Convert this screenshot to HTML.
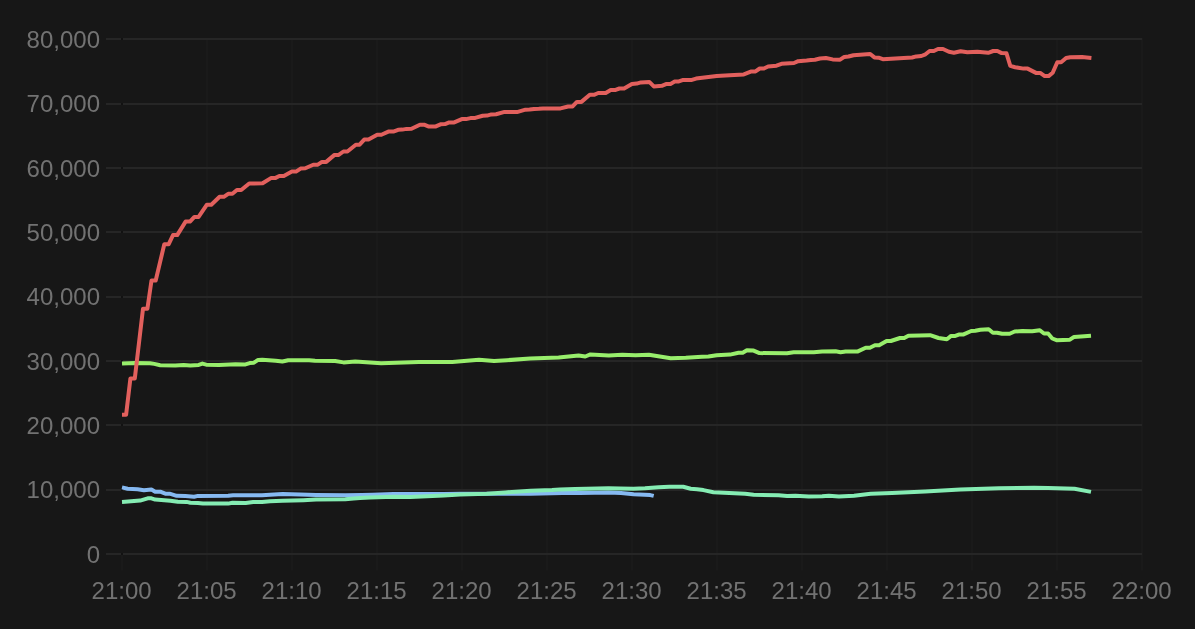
<!DOCTYPE html>
<html lang="en">
<head>
<meta charset="utf-8">
<title>Chart</title>
<style>
html,body{margin:0;padding:0;background:#171717;}
body{width:1195px;height:629px;overflow:hidden;}
svg{display:block;will-change:transform;}
text{font-family:"Liberation Sans",sans-serif;font-size:24px;fill:#727272;}
.s{fill:none;stroke-width:4;stroke-linejoin:round;stroke-linecap:butt;}
</style>
</head>
<body>
<svg width="1195" height="629" viewBox="0 0 1195 629">
<defs><filter id="g" x="0" y="0" width="100%" height="100%" filterUnits="userSpaceOnUse"><feOffset dx="0" dy="0"/></filter></defs>
<rect x="0" y="0" width="1195" height="629" fill="#171717"/>
<g fill="#1a1a1a">
<rect x="121" y="555" width="2" height="15.5"/>
<rect x="206" y="38" width="2" height="532.5"/>
<rect x="291" y="38" width="2" height="532.5"/>
<rect x="376" y="38" width="2" height="532.5"/>
<rect x="461" y="38" width="2" height="532.5"/>
<rect x="546" y="38" width="2" height="532.5"/>
<rect x="631" y="38" width="2" height="532.5"/>
<rect x="716" y="38" width="2" height="532.5"/>
<rect x="801" y="38" width="2" height="532.5"/>
<rect x="886" y="38" width="2" height="532.5"/>
<rect x="971" y="38" width="2" height="532.5"/>
<rect x="1056" y="38" width="2" height="532.5"/>
<rect x="1141" y="38" width="2" height="532.5"/>
</g>
<g fill="#262626">
<rect x="106" y="38.000" width="15" height="2"/><rect x="123" y="38.000" width="1019" height="2"/>
<rect x="106" y="103.000" width="15" height="2"/><rect x="123" y="103.000" width="1019" height="2"/>
<rect x="106" y="167.000" width="15" height="2"/><rect x="123" y="167.000" width="1019" height="2"/>
<rect x="106" y="231.000" width="15" height="2"/><rect x="123" y="231.000" width="1019" height="2"/>
<rect x="106" y="296.000" width="15" height="2"/><rect x="123" y="296.000" width="1019" height="2"/>
<rect x="106" y="360.000" width="15" height="2"/><rect x="123" y="360.000" width="1019" height="2"/>
<rect x="106" y="424.000" width="15" height="2"/><rect x="123" y="424.000" width="1019" height="2"/>
<rect x="106" y="489.000" width="15" height="2"/><rect x="123" y="489.000" width="1019" height="2"/>
<rect x="106" y="553.000" width="15" height="2"/><rect x="123" y="553.000" width="1019" height="2"/>
</g>
<g fill="#121212">
<rect x="121" y="38.000" width="2" height="2"/>
<rect x="121" y="103.000" width="2" height="2"/>
<rect x="121" y="167.000" width="2" height="2"/>
<rect x="121" y="231.000" width="2" height="2"/>
<rect x="121" y="296.000" width="2" height="2"/>
<rect x="121" y="360.000" width="2" height="2"/>
<rect x="121" y="424.000" width="2" height="2"/>
<rect x="121" y="489.000" width="2" height="2"/>
<rect x="121" y="553.000" width="2" height="2"/>
</g>
<g text-anchor="end" filter="url(#g)">
<text x="100" y="48">80,000</text>
<text x="100" y="112">70,000</text>
<text x="100" y="177">60,000</text>
<text x="100" y="241">50,000</text>
<text x="100" y="305">40,000</text>
<text x="100" y="370">30,000</text>
<text x="100" y="434">20,000</text>
<text x="100" y="498">10,000</text>
<text x="100" y="563">0</text>
</g>
<g text-anchor="middle" filter="url(#g)">
<text x="121.6" y="599.3">21:00</text>
<text x="206.6" y="599.3">21:05</text>
<text x="291.6" y="599.3">21:10</text>
<text x="376.6" y="599.3">21:15</text>
<text x="461.6" y="599.3">21:20</text>
<text x="546.6" y="599.3">21:25</text>
<text x="631.6" y="599.3">21:30</text>
<text x="716.6" y="599.3">21:35</text>
<text x="801.6" y="599.3">21:40</text>
<text x="886.6" y="599.3">21:45</text>
<text x="971.6" y="599.3">21:50</text>
<text x="1056.6" y="599.3">21:55</text>
<text x="1141.6" y="599.3">22:00</text>
</g>
<polyline class="s" stroke="#86b9f1" points="122.0,487.4 127.6,488.7 137.6,489.3 143.9,490.2 151.4,489.5 155.2,491.7 160.2,491.7 165.3,493.7 169.6,493.7 176.6,495.8 185.4,496.1 194.1,496.7 197.9,495.9 228.1,495.7 233.1,495.2 262.0,495.3 270.0,494.8 282.6,494.1 300.0,494.6 316.0,495.0 345.3,495.3 362.0,495.0 372.5,494.7 393.5,494.1 418.6,493.9 443.7,494.1 460.0,493.7 493.0,493.7 530.6,493.7 552.0,493.3 562.6,493.1 580.0,492.9 608.5,492.4 621.0,493.1 633.6,494.3 650.3,495.1 653.7,495.9"/>
<polyline class="s" stroke="#85ecb3" points="122.0,501.9 140.1,500.6 147.7,498.3 151.4,498.3 155.2,499.6 170.3,500.7 177.8,501.7 186.6,501.9 190.4,502.7 197.9,503.0 202.9,503.6 228.1,503.6 232.5,502.7 245.7,503.1 253.2,502.1 262.0,501.9 270.0,501.3 282.6,500.8 303.5,500.2 316.0,499.6 345.3,499.2 353.7,498.5 360.0,498.0 370.0,497.4 393.5,496.7 410.2,497.0 427.0,496.3 443.7,495.5 460.0,494.5 486.7,493.7 505.5,492.4 530.6,490.8 552.0,490.0 560.0,489.5 575.0,488.9 608.5,488.2 620.0,488.4 633.6,488.7 645.0,488.2 658.7,487.2 669.3,486.7 683.2,486.8 690.7,488.7 697.0,489.2 703.4,490.1 713.4,492.2 745.2,493.8 753.6,494.8 778.7,495.2 787.1,496.0 795.4,495.7 808.8,496.5 822.2,496.3 828.9,495.7 838.9,496.5 854.0,495.7 870.7,493.8 892.0,492.9 925.1,491.4 960.3,489.6 999.0,488.2 1034.1,487.7 1048.2,488.0 1074.5,488.7 1091.0,491.9"/>
<polyline class="s" stroke="#98ee6c" points="122.0,363.6 135.1,362.9 150.1,363.2 154.3,363.9 160.2,365.2 175.3,365.4 183.6,364.9 190.3,365.6 198.7,364.9 202.4,363.6 206.2,364.7 218.8,365.1 235.5,364.2 245.5,364.4 249.7,363.1 253.9,362.7 258.1,359.9 262.3,359.7 275.7,360.7 282.4,361.5 288.2,360.2 309.1,360.2 315.0,360.8 335.1,361.0 343.5,362.4 355.2,361.5 381.1,363.2 418.8,361.9 452.3,361.9 464.0,361.0 479.0,359.7 494.1,361.0 507.0,360.2 530.1,358.5 558.6,357.4 578.6,355.5 585.3,356.5 590.4,354.4 608.8,355.5 622.2,354.7 635.5,355.2 648.9,354.7 670.7,358.2 685.8,357.7 702.0,356.7 708.4,356.6 716.7,355.3 730.1,354.6 738.5,352.8 742.7,352.8 746.9,350.3 753.6,350.6 759.4,353.1 787.0,353.3 793.7,352.3 813.8,352.3 822.2,351.4 835.6,351.3 840.6,352.3 845.6,351.6 857.3,351.6 865.7,347.7 869.9,347.7 874.9,345.2 879.1,345.2 886.6,341.0 890.8,341.0 900.0,338.0 904.2,338.0 908.4,335.7 930.1,335.2 938.5,338.0 946.9,339.2 951.1,335.9 955.3,335.9 959.4,334.4 963.6,334.4 971.2,331.0 975.3,330.7 980.4,329.8 988.7,329.3 992.9,332.7 997.1,332.7 1002.1,333.8 1009.6,333.8 1014.7,331.5 1022.2,331.0 1032.2,331.3 1039.8,330.2 1044.0,333.5 1048.1,333.5 1052.3,338.5 1056.5,340.2 1069.9,339.7 1074.1,336.9 1091.0,335.7"/>
<polyline class="s" stroke="#e2605d" points="122.0,414.7 126.1,414.7 130.4,378.5 134.8,378.5 143.0,308.7 147.4,308.7 151.5,280.5 155.7,280.5 164.3,244.3 168.6,244.3 173.0,235.1 177.2,235.1 185.6,221.6 190.0,221.6 194.4,216.9 198.6,216.9 206.9,204.7 211.3,204.7 219.6,196.8 223.8,196.8 228.2,193.8 232.4,193.8 236.9,190.0 241.2,190.0 249.2,183.5 262.6,183.3 270.9,178.1 275.1,178.1 279.3,176.0 283.8,176.0 291.9,171.6 296.0,171.6 300.6,168.6 305.3,168.3 313.3,164.7 317.8,164.7 322.0,161.9 326.2,161.9 334.5,154.9 338.7,154.9 343.4,151.5 347.4,151.5 355.8,144.7 359.6,144.7 364.2,139.6 368.5,139.6 377.2,134.8 381.4,134.8 388.9,131.4 394.0,131.4 398.1,129.8 402.3,129.6 406.5,128.9 411.5,128.8 419.9,124.7 424.1,124.7 428.3,126.4 435.8,126.4 440.5,124.3 445.0,124.1 449.2,122.4 454.2,122.4 461.8,119.1 466.0,119.1 470.5,118.1 475.2,117.9 482.7,115.8 486.9,115.6 491.4,114.4 496.1,114.2 504.5,111.9 517.0,112.1 525.4,109.7 529.6,109.6 534.1,108.9 538.8,108.7 543.0,108.4 560.5,108.4 568.1,106.5 572.6,106.4 576.9,101.9 581.4,101.9 589.8,94.8 594.0,94.8 598.2,93.0 605.7,93.0 610.7,90.1 614.9,90.1 619.4,88.5 624.1,88.5 631.9,84.0 636.7,83.6 640.9,82.4 649.3,81.9 653.8,86.4 661.8,85.8 666.0,84.1 670.5,83.9 674.7,81.6 678.9,81.4 683.2,79.9 691.9,79.9 696.1,78.6 716.7,76.0 729.6,75.2 743.8,74.4 751.4,71.4 755.5,71.4 759.7,68.5 763.9,68.5 768.1,66.5 776.5,65.7 781.5,63.8 794.0,63.0 798.2,61.2 806.6,60.6 810.8,60.1 814.9,59.8 820.0,58.5 825.9,58.0 832.6,59.4 840.1,59.7 844.3,56.9 848.5,56.5 853.5,55.2 870.2,54.0 874.4,57.4 878.6,57.7 882.8,59.2 912.1,57.5 916.3,56.4 921.3,56.0 925.5,54.3 929.6,51.0 933.8,51.0 938.0,49.0 943.0,49.0 948.9,51.8 953.9,52.7 960.6,51.3 967.3,52.2 977.3,51.8 988.2,52.8 993.2,51.0 997.4,51.0 1001.7,53.1 1006.4,53.2 1010.3,65.9 1015.1,67.2 1023.5,68.6 1027.6,68.6 1036.0,72.9 1040.2,72.9 1044.7,76.1 1048.6,76.1 1052.7,72.8 1057.3,62.2 1061.1,62.2 1066.1,58.0 1070.3,57.2 1082.0,56.9 1091.4,57.9"/>
</svg>
</body>
</html>
